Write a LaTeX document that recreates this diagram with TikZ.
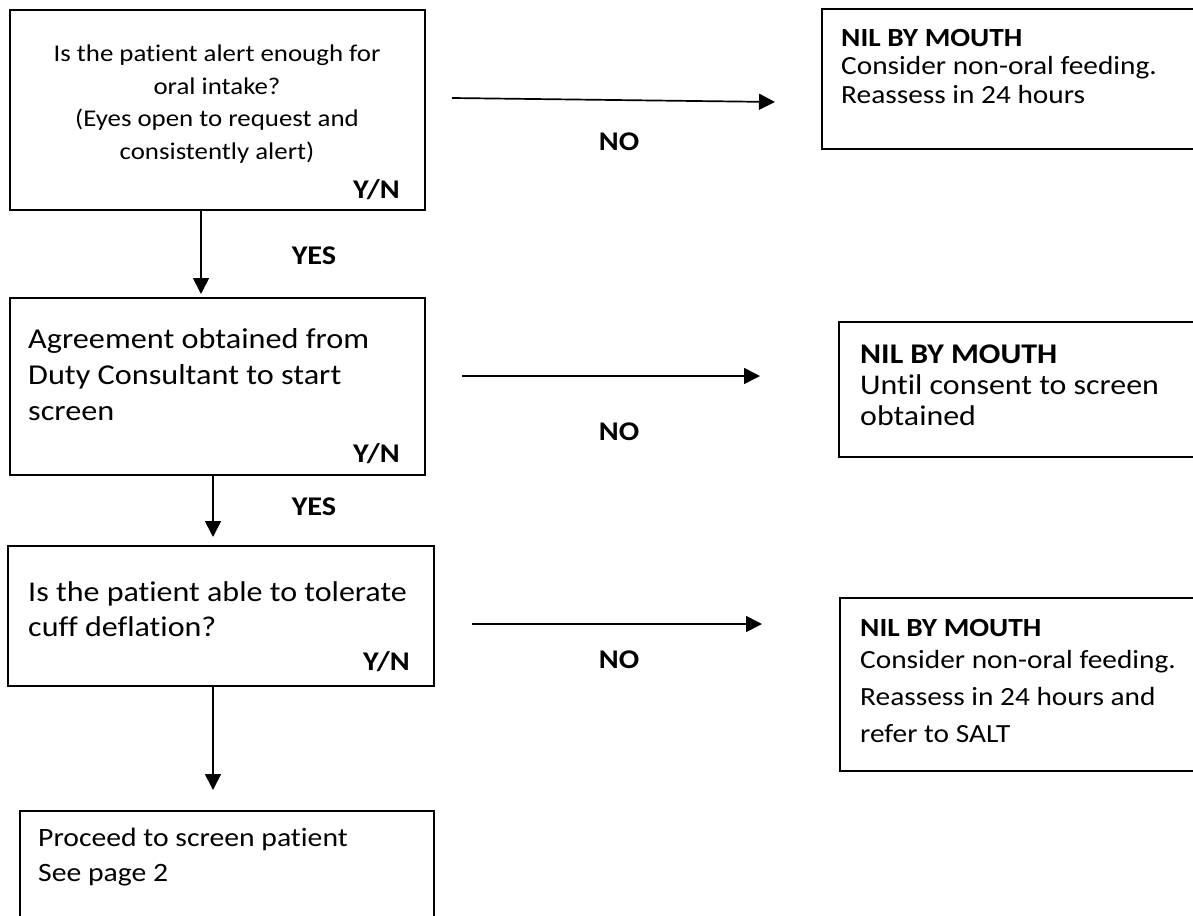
\documentclass[tikz,border=0pt]{standalone}
\usepackage{fontspec}
\setmainfont{Carlito}[FakeStretch=1.12, Ligatures=NoCommon]
\usetikzlibrary{arrows.meta}
\begin{document}
\begin{tikzpicture}[x=1pt,y=-1pt,
  box/.style={draw, line width=1.7pt, rectangle, inner sep=0pt, anchor=north west},
  arr/.style={line width=1.7pt, -{Triangle[length=16pt,width=16pt]}},
  body/.style={inner sep=0pt, anchor=north west, align=left},
  small/.style={inner sep=0pt, anchor=north, align=center, font=\fontsize{24}{32.5}\selectfont},
  lbl/.style={inner sep=0pt, font=\bfseries\fontsize{27}{30}\selectfont},
]
\useasboundingbox (0,0) rectangle (1193,915);
\clip (0,0) rectangle (1193,915);
% left column boxes
\node[box, minimum width=415pt, minimum height=200pt] (b1) at (9,9) {};
\node[box, minimum width=415pt, minimum height=177pt] (b2) at (9,297) {};
\node[box, minimum width=426pt, minimum height=140pt] (b3) at (7,545) {};
\node[box, minimum width=414pt, minimum height=130pt] (b4) at (19,810) {};
% right column boxes
\node[box, minimum width=400pt, minimum height=140pt] (r1) at (821,8) {};
\node[box, minimum width=380pt, minimum height=135pt] (r2) at (838,321) {};
\node[box, minimum width=380pt, minimum height=173pt] (r3) at (839,597) {};
% texts
\node[small] (t1) at (217,45) {Is the patient alert enough for\\oral intake?\\(Eyes open to request and\\consistently alert)};
\node[lbl, anchor=east] (yn1) at (400,190) {Y/N};
\node[body, font=\fontsize{28.8}{36}\selectfont] (t2) at (28,328) {Agreement obtained from\\Duty Consultant to start\\screen};
\node[lbl, anchor=east] (yn2) at (400,454) {Y/N};
\node[body, font=\fontsize{28.6}{35}\selectfont] (t3) at (28,581) {Is the patient able to tolerate\\cuff deflation?};
\node[lbl, anchor=east] (yn3) at (410,662) {Y/N};
\node[body, font=\fontsize{26.5}{35}\selectfont] (t4) at (38,828) {Proceed to screen patient\\See page 2};
\node[body, font=\fontsize{26.2}{28.5}\selectfont] (u1) at (841,29) {\textbf{NIL BY MOUTH}\\Consider non-oral feeding.\\Reassess in 24 hours};
\node[body, font=\fontsize{28.5}{31}\selectfont] (u2) at (860,345) {\textbf{NIL BY MOUTH}\\Until consent to screen\\obtained};
\node[body, font=\fontsize{26.2}{37}\selectfont] (u3) at (860,619) {\textbf{NIL BY MOUTH}\\[-5pt]Consider non-oral feeding.\\Reassess in 24 hours and\\refer to SALT};
% vertical connectors
\coordinate (e1) at (201,294);
\coordinate (e2) at (213,537);
\coordinate (e3) at (213,790);
\draw[arr] (b1.south -| e1) -- (e1);
\draw[arr] (b2.south -| e2) -- (e2);
\draw[arr] (b3.south -| e3) -- (e3);
\node[lbl] (yes1) at (314,256) {YES};
\node[lbl] (yes2) at (314,507) {YES};
% horizontal connectors
\coordinate (n1s) at (452,98);
\coordinate (n1e) at (775,102);
\coordinate (n2s) at (462,376);
\coordinate (n2e) at (760,376);
\coordinate (n3s) at (472,624);
\coordinate (n3e) at (762,624);
\draw[arr] (n1s) -- (n1e);
\draw[arr] (n2s) -- (n2e);
\draw[arr] (n3s) -- (n3e);
\node[lbl] (no1) at (619,142) {NO};
\node[lbl] (no2) at (619,432) {NO};
\node[lbl] (no3) at (619,660) {NO};
\end{tikzpicture}
\end{document}
